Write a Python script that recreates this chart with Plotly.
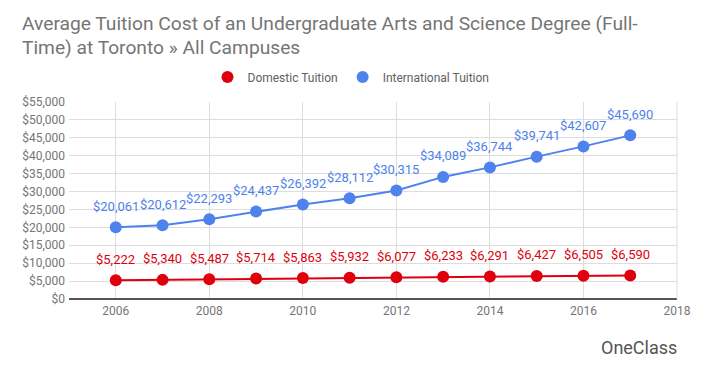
import plotly.graph_objects as go

years = [2006, 2007, 2008, 2009, 2010, 2011, 2012, 2013, 2014, 2015, 2016, 2017]
domestic = [5222, 5340, 5487, 5714, 5863, 5932, 6077, 6233, 6291, 6427, 6505, 6590]
international = [20061, 20612, 22293, 24437, 26392, 28112, 30315, 34089, 36744, 39741, 42607, 45690]
y_ticks = list(range(0, 55001, 5000))
x_ticks = [2006, 2008, 2010, 2012, 2014, 2016, 2018]

RED = "#e0000d"
BLUE = "#4e82ec"

W, H = 698, 360  # page body has an 8px margin

fig = go.Figure()
for name, vals, c in [("Domestic Tuition", domestic, RED), ("International Tuition", international, BLUE)]:
    fig.add_trace(go.Scatter(
        x=years, y=vals, name=name, mode="lines+markers", showlegend=False,
        line=dict(color=c, width=2), marker=dict(size=12, color=c),
        cliponaxis=False,
    ))
    fig.add_trace(go.Scatter(
        x=[None], y=[None], name=name, mode="markers",
        marker=dict(size=11, color=c),
    ))
    for x, y in zip(years, vals):
        fig.add_annotation(x=x, y=y, text=f"${y:,}", showarrow=False,
                           yshift=21, font=dict(color=c, size=13, family="Roboto"))

fig.add_annotation(xref="paper", yref="paper", x=1.003, y=-0.244, xanchor="right", yanchor="middle",
                   text="OneClass", showarrow=False,
                   font=dict(size=18, color="#555555", family="Roboto"))

fig.update_layout(
    width=W, height=H,
    margin=dict(l=61, r=29, t=94, b=69, autoexpand=False),
    paper_bgcolor="white", plot_bgcolor="white",
    title=dict(text="Average Tuition Cost of an Undergraduate Arts and Science Degree (Full-<br>Time) at Toronto » All Campuses",
               x=14 / W, xanchor="left", xref="container", yref="container",
               y=1 - 21.5 / H, yanchor="middle",
               font=dict(family="Roboto", size=19.2, color="#757575")),
    legend=dict(orientation="h", x=(349 - 6) / W, xanchor="center", xref="container", yref="container",
                y=1 - 69 / H, yanchor="middle",
                font=dict(family="Roboto", size=12, color="#616161"), itemsizing="constant"),
    showlegend=True,
    font=dict(family="Roboto"),
)
fig.update_xaxes(range=[2005, 2018], tickvals=x_ticks, ticktext=[str(t) for t in x_ticks],
                 showgrid=True, gridcolor="#dddddd", zeroline=False, automargin=False,
                 tickfont=dict(size=12, color="#757575"), showline=False, ticks="",
                 ticklabelstandoff=3)
fig.update_yaxes(range=[0, 55000], tickvals=y_ticks, ticktext=[f"${v:,}" for v in y_ticks],
                 showgrid=True, gridcolor="#dddddd", zeroline=True, zerolinecolor="#555555",
                 zerolinewidth=2, automargin=False, tickfont=dict(size=12, color="#757575"), ticks="",
                 ticklabelstandoff=3)
fig.add_shape(type="line", xref="paper", yref="paper", x0=1, x1=1, y0=0, y1=1,
              line=dict(color="#dddddd", width=1))
fig.write_html("out.html")
